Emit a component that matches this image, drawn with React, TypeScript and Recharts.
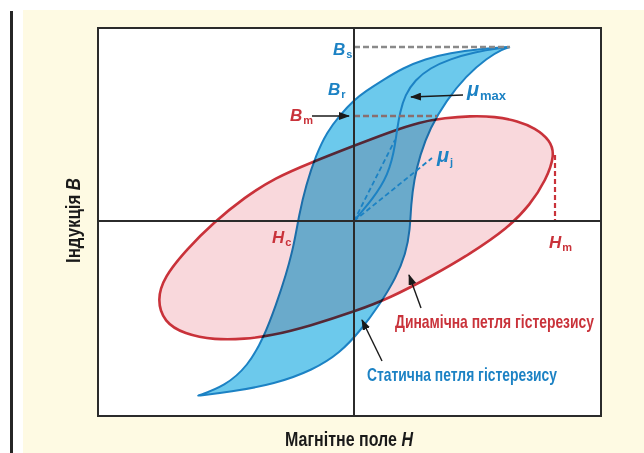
import React from 'react';
import { ComposedChart, Line, XAxis, YAxis, ReferenceLine, ReferenceDot } from 'recharts';

// H / B in schematic units (origin at the axes crossing)
const H_DOMAIN: [number, number] = [-256, 246];
const B_DOMAIN: [number, number] = [-194, 193];

// Dynamic hysteresis loop (ellipse), read around its outline
const dynamicLoop = [
  { h: 201, b: 66 }, { h: 196, b: 81 }, { h: 181, b: 93 }, { h: 164, b: 100 },
  { h: 141, b: 104.5 }, { h: 116, b: 105 }, { h: 91, b: 103 }, { h: 66, b: 99 },
  { h: 36, b: 89 }, { h: 2, b: 76 }, { h: -44, b: 58 }, { h: -79, b: 43 },
  { h: -109, b: 24 }, { h: -141, b: -2 }, { h: -167, b: -28 }, { h: -190, b: -56 },
  { h: -197, b: -79 }, { h: -190, b: -101 }, { h: -170, b: -113 }, { h: -139, b: -119 },
  { h: -109, b: -118 }, { h: -84, b: -115 }, { h: -44, b: -105 }, { h: 2, b: -90 },
  { h: 36, b: -77 }, { h: 78, b: -55 }, { h: 116, b: -33 }, { h: 154, b: -7 },
  { h: 176, b: 16 }, { h: 192, b: 41 },
];

// Static hysteresis loop: descending branch then ascending branch
const staticLoop = [
  { h: 156, b: 174 }, { h: 126, b: 172 }, { h: 96, b: 168 }, { h: 71, b: 162 },
  { h: 49, b: 153 }, { h: 29, b: 141 }, { h: 12, b: 130 }, { h: 0, b: 121 },
  { h: -14, b: 106 }, { h: -27, b: 89 }, { h: -38, b: 66 }, { h: -48, b: 36 },
  { h: -55, b: 6 }, { h: -60, b: -24 }, { h: -68, b: -54 }, { h: -78, b: -84 },
  { h: -90, b: -116 }, { h: -106, b: -145 }, { h: -129, b: -165 },
  { h: -157, b: -175 }, { h: -157, b: -175 },
  { h: -124, b: -171 }, { h: -79, b: -163 }, { h: -41, b: -149 }, { h: -14, b: -132 },
  { h: 7, b: -109 }, { h: 26, b: -83 }, { h: 42, b: -57 }, { h: 52, b: -32 },
  { h: 56, b: -9 }, { h: 57, b: 16 }, { h: 60, b: 41 }, { h: 66, b: 66 },
  { h: 76, b: 93 }, { h: 92, b: 120 }, { h: 112, b: 145 }, { h: 133, b: 163 },
  { h: 149, b: 172 }, { h: 156, b: 174 },
];

// Initial magnetisation curve
const initialCurve = [
  { h: 0, b: 0 }, { h: 10, b: 12 }, { h: 19, b: 23 }, { h: 27, b: 35 },
  { h: 33, b: 46 }, { h: 38, b: 61 }, { h: 41, b: 76 }, { h: 43, b: 91 },
  { h: 46, b: 109 }, { h: 51, b: 126 }, { h: 61, b: 141 }, { h: 76, b: 153 },
  { h: 96, b: 162 }, { h: 121, b: 169 }, { h: 146, b: 173 }, { h: 156, b: 174 },
];

// Characteristic values
const B_S = 174;
const B_S_H = 156;
const B_M = 105;
const B_M_H_END = 83;
const H_M = 201;
const H_M_B = 66;
const MU_MAX_END = { h: 41, b: 81 };
const MU_I_END = { h: 78, b: 63 };

// Annotation arrows: [from, to]
const arrows = [
  [{ h: -42, b: 105 }, { h: -5, b: 105 }],
  [{ h: 109, b: 126 }, { h: 57, b: 124 }],
  [{ h: 67, b: -87 }, { h: 55, b: -54 }],
  [{ h: 28, b: -140 }, { h: 8, b: -99 }],
];

const RED = '#c9323a';
const BLUE = '#1c82c4';
const FONT = "'Liberation Sans',Arial,sans-serif";
const SQUEEZE = 0.75;

const symbolLabels = [
  { h: -21, b: 166, main: 'B', sub: 's', color: BLUE },
  { h: -26, b: 126, main: 'B', sub: 'r', color: BLUE },
  { h: -64, b: 100, main: 'B', sub: 'm', color: RED },
  { h: 113, b: 125, main: 'μ', sub: 'max', color: BLUE },
  { h: 83, b: 59, main: 'μ', sub: 'j', color: BLUE },
  { h: -82, b: -22, main: 'H', sub: 'c', color: RED },
  { h: 195, b: -27, main: 'H', sub: 'm', color: RED },
];

const captionLabels = [
  { h: 41, b: -107, text: 'Динамічна петля гістерезису', color: RED, len: 199 },
  { h: 13, b: -160, text: 'Статична петля гістерезису', color: BLUE, len: 190 },
];

const css = `
.red-loop path.recharts-line-curve { fill: #f9d6da; fill-opacity: 0.95; }
.blue-loop path.recharts-line-curve { fill: #5fc4ea; fill-opacity: 0.92; mix-blend-mode: multiply; }
`;

export default function App() {
  return (
    <div style={{ position: 'absolute', left: 0, top: 0, width: 644, height: 453, overflow: 'hidden', background: '#ffffff' }}>
      <style>{css}</style>
      <svg width={0} height={0} style={{ position: 'absolute' }}>
        <defs>
          <marker id="arrowHead" viewBox="0 0 11 8" refX={10} refY={4} markerWidth={11} markerHeight={8}
            markerUnits="userSpaceOnUse" orient="auto">
            <path d="M0,0 L11,4 L0,8 z" fill="#1a1a1a" />
          </marker>
        </defs>
      </svg>
      <div style={{ position: 'absolute', left: 10, top: 11, width: 3, height: 442, background: '#262626' }} />
      <div style={{ position: 'absolute', left: 23, top: 10, width: 621, height: 443, background: '#fefae3' }} />
      <div style={{ position: 'absolute', left: 97, top: 27, width: 505, height: 390, boxSizing: 'border-box', border: '2.5px solid #2b2b2b', background: '#ffffff' }} />
      <div style={{ position: 'absolute', left: 0, top: 0 }}>
        <ComposedChart width={644} height={453} margin={{ top: 28, right: 44, left: 58, bottom: 8 }}>
          <XAxis dataKey="h" type="number" domain={H_DOMAIN} allowDataOverflow height={30}
            tick={false} axisLine={false} tickLine={false}
            label={(p: any) => {
              const vb = p.viewBox;
              return (
                <g transform={`translate(${vb.x + vb.width / 2},${vb.y + 31}) scale(${SQUEEZE},1)`}>
                  <text x={0} y={0} textAnchor="middle" fontFamily={FONT} fontWeight={700} fontSize={20}
                    fill="#1a1a1a" textLength={128 / SQUEEZE} lengthAdjust="spacingAndGlyphs">
                    Магнітне поле <tspan fontStyle="italic">H</tspan>
                  </text>
                </g>
              );
            }} />
          <YAxis dataKey="b" type="number" domain={B_DOMAIN} allowDataOverflow width={40}
            tick={false} axisLine={false} tickLine={false}
            label={(p: any) => {
              const vb = p.viewBox;
              const cx = vb.x + 22;
              const cy = vb.y + vb.height / 2 - 1;
              return (
                <g transform={`translate(${cx},${cy}) rotate(-90) scale(${SQUEEZE},1)`}>
                  <text x={0} y={0} textAnchor="middle" fontFamily={FONT} fontWeight={700} fontSize={20}
                    fill="#1a1a1a" textLength={85 / SQUEEZE} lengthAdjust="spacingAndGlyphs">
                    Індукція <tspan fontStyle="italic">B</tspan>
                  </text>
                </g>
              );
            }} />

          <Line className="red-loop" data={dynamicLoop} dataKey="b" type="basisClosed" stroke={RED} strokeWidth={2.6}
            dot={false} activeDot={false} isAnimationActive={false} />
          <Line className="blue-loop" data={staticLoop} dataKey="b" type="basis" stroke={BLUE} strokeWidth={2}
            dot={false} activeDot={false} isAnimationActive={false} />
          <Line data={initialCurve} dataKey="b" type="basis" stroke={BLUE} strokeWidth={2}
            dot={false} activeDot={false} isAnimationActive={false} />

          <ReferenceLine segment={[{ x: 0, y: 0 }, { x: MU_MAX_END.h, y: MU_MAX_END.b }]} stroke={BLUE} strokeWidth={1.8} strokeDasharray="5 3" />
          <ReferenceLine segment={[{ x: 0, y: 0 }, { x: MU_I_END.h, y: MU_I_END.b }]} stroke={BLUE} strokeWidth={1.8} strokeDasharray="5 3" />
          <ReferenceLine segment={[{ x: 0, y: B_S }, { x: B_S_H, y: B_S }]} stroke="#8a8a8a" strokeWidth={2.6} strokeDasharray="6 3" />
          <ReferenceLine segment={[{ x: 0, y: B_M }, { x: B_M_H_END, y: B_M }]} stroke="#8a6e6e" strokeWidth={2.6} strokeDasharray="6 3" />
          <ReferenceLine segment={[{ x: H_M, y: H_M_B }, { x: H_M, y: 0 }]} stroke={RED} strokeWidth={2.2} strokeDasharray="5 3" />

          <ReferenceLine x={0} stroke="#2b2b2b" strokeWidth={2} />
          <ReferenceLine y={0} stroke="#2b2b2b" strokeWidth={2} />

          {arrows.map((a, i) => (
            <ReferenceLine key={'ar' + i} segment={[{ x: a[0].h, y: a[0].b }, { x: a[1].h, y: a[1].b }]}
              stroke="#1a1a1a" strokeWidth={1.4} markerEnd="url(#arrowHead)" />
          ))}

          {symbolLabels.map((s, i) => (
            <ReferenceDot key={'sl' + i} x={s.h} y={s.b} r={0} fill="none" stroke="none"
              label={(p: any) => {
                const vb = p.viewBox;
                const isMu = s.main === 'μ';
                return (
                  <text x={vb.x} y={vb.y} fontFamily={FONT} fontWeight={700} fill={s.color}>
                    <tspan fontStyle="italic" fontSize={isMu ? 20 : 17}>{s.main}</tspan>
                    <tspan fontSize={isMu && s.sub === 'max' ? 13 : 11} dx={1} dy={isMu ? 4 : 3}>{s.sub}</tspan>
                  </text>
                );
              }} />
          ))}

          {captionLabels.map((c, i) => (
            <ReferenceDot key={'cl' + i} x={c.h} y={c.b} r={0} fill="none" stroke="none"
              label={(p: any) => {
                const vb = p.viewBox;
                return (
                  <g transform={`translate(${vb.x},${vb.y}) scale(${SQUEEZE},1)`}>
                    <text x={0} y={0} fontFamily={FONT} fontWeight={700} fontSize={18} fill={c.color}
                      textLength={c.len / SQUEEZE} lengthAdjust="spacingAndGlyphs">
                      {c.text}
                    </text>
                  </g>
                );
              }} />
          ))}
        </ComposedChart>
      </div>
    </div>
  );
}
